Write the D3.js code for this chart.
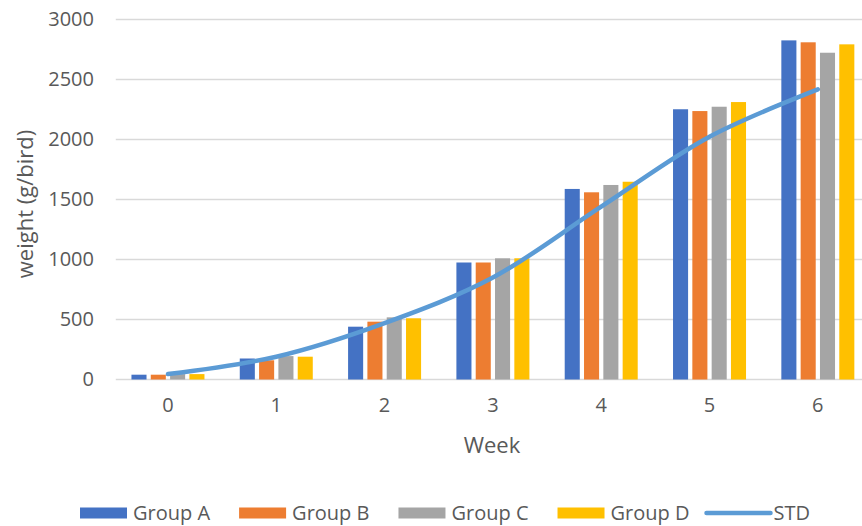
<!DOCTYPE html>
<html>
<head>
<meta charset="utf-8">
<script src="https://cdn.jsdelivr.net/npm/d3@7"></script>
<style>
  html, body { margin: 0; padding: 0; background: #ffffff; }
  svg { display: block; font-family: "Open Sans", "DejaVu Sans", sans-serif; }
</style>
</head>
<body>
<svg id="chart" width="862" height="526"></svg>
<script>
// Weekly body weight per bird (g)
const weeks = ["0", "1", "2", "3", "4", "5", "6"];
const groupNames = ["Group A", "Group B", "Group C", "Group D"];
const groupA = [40, 175, 440, 975, 1588, 2252, 2826];
const groupB = [40, 160, 482, 975, 1560, 2237, 2810];
const groupC = [45, 195, 518, 1010, 1621, 2273, 2723];
const groupD = [45, 190, 510, 1010, 1648, 2312, 2793];
const stdValues = [45, 190, 470, 850, 1440, 2023, 2418];
const yTicks = [0, 500, 1000, 1500, 2000, 2500, 3000];

const groupColors = ["#4472C4", "#ED7D31", "#A5A5A5", "#FFC000"];
const stdColor = "#5B9BD5";
const textColor = "#595959";

const series = [groupA, groupB, groupC, groupD];

const svg = d3.select("#chart");

// Plot frame (the category axis runs a little past the right edge)
const plot = { left: 113.8, right: 872, top: 19.5, bottom: 379.5 };

const x0 = d3.scaleBand()
  .domain(weeks)
  .range([plot.left, plot.right])
  .paddingInner(0.326)
  .paddingOuter(0.163);

const x1 = d3.scaleBand()
  .domain(groupNames)
  .range([0, x0.bandwidth()])
  .paddingInner(0.22);

const y = d3.scaleLinear()
  .domain([0, 3000])
  .range([plot.bottom, plot.top]);

// Horizontal gridlines
svg.append("g")
  .selectAll("line")
  .data(yTicks)
  .join("line")
  .attr("x1", plot.left + 2)
  .attr("x2", 862)
  .attr("y1", d => y(d))
  .attr("y2", d => y(d))
  .attr("stroke", "#D9D9D9")
  .attr("stroke-width", 1.6);

// Y axis labels
const yAxis = d3.axisLeft(y).tickValues(yTicks).tickFormat(d3.format("d")).tickSize(0).tickPadding(0);
const yG = svg.append("g")
  .attr("transform", `translate(94,0)`)
  .call(yAxis);
yG.select(".domain").remove();
yG.selectAll("text")
  .attr("fill", textColor)
  .style("font-size", "20px")
  .style("font-family", "'Open Sans', sans-serif");

// X axis labels
const xAxis = d3.axisBottom(x0).tickSize(0).tickPadding(0);
const xG = svg.append("g")
  .attr("transform", `translate(0,${plot.bottom + 18})`)
  .call(xAxis);
xG.select(".domain").remove();
xG.selectAll("text")
  .attr("fill", textColor)
  .style("font-size", "20px")
  .style("font-family", "'Open Sans', sans-serif");

// Bars
const barData = weeks.flatMap((w, i) =>
  groupNames.map((g, j) => ({ week: w, group: g, value: series[j][i], color: groupColors[j] }))
);
svg.append("g")
  .selectAll("rect")
  .data(barData)
  .join("rect")
  .attr("x", d => x0(d.week) + x1(d.group))
  .attr("width", x1.bandwidth())
  .attr("y", d => y(d.value))
  .attr("height", d => y(0) - y(d.value))
  .attr("fill", d => d.color);

// Standard growth curve
const line = d3.line()
  .x((d, i) => x0(weeks[i]) + x0.bandwidth() / 2)
  .y(d => y(d))
  .curve(d3.curveCatmullRom.alpha(0.5));
svg.append("path")
  .datum(stdValues)
  .attr("d", line)
  .attr("fill", "none")
  .attr("stroke", stdColor)
  .attr("stroke-width", 4.5)
  .attr("stroke-linecap", "round")
  .attr("stroke-linejoin", "round");

// Axis titles
svg.append("text")
  .attr("x", 492)
  .attr("y", 453)
  .attr("text-anchor", "middle")
  .attr("fill", textColor)
  .style("font-size", "22px")
  .text("Week");

svg.append("text")
  .attr("transform", "translate(33,204) rotate(-90)")
  .attr("text-anchor", "middle")
  .attr("fill", textColor)
  .style("font-size", "22px")
  .text("weight (g/bird)");

// Legend
const legendItems = groupNames.map((g, j) => ({ label: g, color: groupColors[j], type: "rect" }))
  .concat([{ label: "STD", color: stdColor, type: "line" }]);
const legend = svg.append("g");
let cursor = 80;
const legendY = 513;
legendItems.forEach((item, i) => {
  const g = legend.append("g");
  if (item.type === "rect") {
    g.append("rect")
      .attr("x", cursor)
      .attr("y", legendY - 5.5)
      .attr("width", 47)
      .attr("height", 11)
      .attr("fill", item.color);
    cursor += 53;
  } else {
    cursor -= 12;
    g.append("line")
      .attr("x1", cursor)
      .attr("x2", cursor + 64)
      .attr("y1", legendY)
      .attr("y2", legendY)
      .attr("stroke", item.color)
      .attr("stroke-width", 4.5)
      .attr("stroke-linecap", "round");
    cursor += 67;
  }
  const t = g.append("text")
    .attr("x", cursor)
    .attr("y", legendY + 7)
    .attr("fill", textColor)
    .style("font-size", "20px")
    .text(item.label);
  cursor += t.node().getComputedTextLength() + 29;
});
</script>
</body>
</html>
